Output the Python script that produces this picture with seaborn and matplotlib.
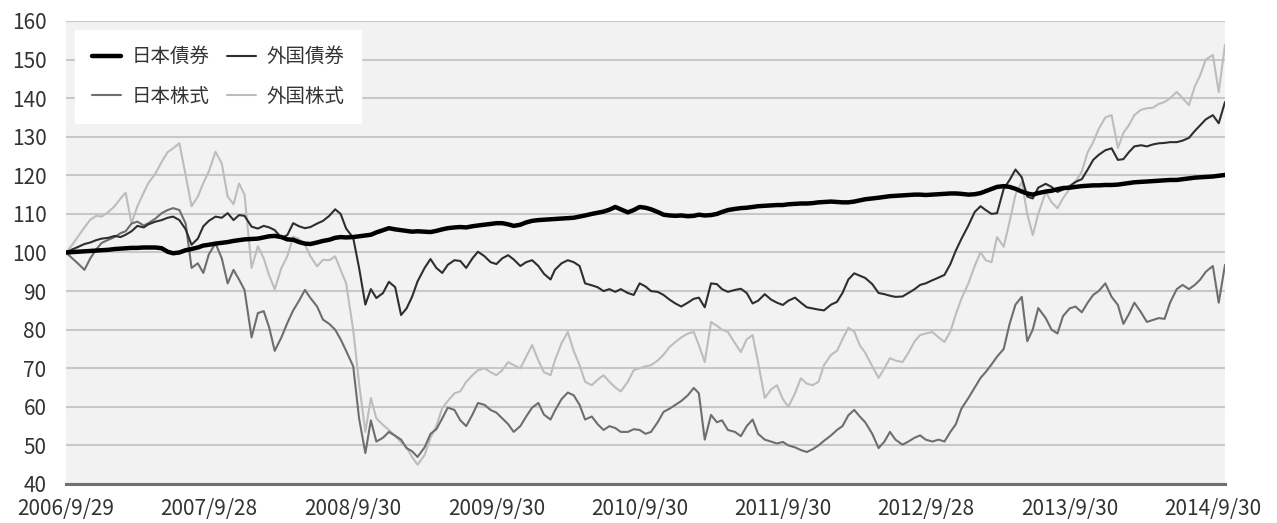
import matplotlib
matplotlib.use("Agg")
import matplotlib.pyplot as plt
import seaborn as sns
import pandas as pd

# ---- data (semi-monthly readings) ----
DATES = [
    "2006-09-29", "2006-10-15", "2006-10-31", "2006-11-15", "2006-11-30", "2006-12-15", "2006-12-29", "2007-01-15", "2007-01-31", "2007-02-15", "2007-02-28", "2007-03-15",
    "2007-03-30", "2007-04-15", "2007-04-27", "2007-05-15", "2007-05-31", "2007-06-15", "2007-06-29", "2007-07-15", "2007-07-31", "2007-08-15", "2007-08-31", "2007-09-14",
    "2007-09-28", "2007-10-15", "2007-10-31", "2007-11-15", "2007-11-30", "2007-12-14", "2007-12-28", "2008-01-15", "2008-01-31", "2008-02-15", "2008-02-29", "2008-03-14",
    "2008-03-31", "2008-04-15", "2008-04-30", "2008-05-15", "2008-05-30", "2008-06-13", "2008-06-30", "2008-07-15", "2008-07-31", "2008-08-15", "2008-08-29", "2008-09-12",
    "2008-09-30", "2008-10-15", "2008-10-31", "2008-11-14", "2008-11-28", "2008-12-15", "2008-12-30", "2009-01-15", "2009-01-30", "2009-02-13", "2009-02-27", "2009-03-13",
    "2009-03-31", "2009-04-15", "2009-04-30", "2009-05-15", "2009-05-29", "2009-06-15", "2009-06-30", "2009-07-15", "2009-07-31", "2009-08-14", "2009-08-31", "2009-09-15",
    "2009-09-30", "2009-10-15", "2009-10-30", "2009-11-13", "2009-11-30", "2009-12-15", "2009-12-30", "2010-01-15", "2010-01-29", "2010-02-15", "2010-02-26", "2010-03-15",
    "2010-03-31", "2010-04-15", "2010-04-30", "2010-05-14", "2010-05-31", "2010-06-15", "2010-06-30", "2010-07-15", "2010-07-30", "2010-08-13", "2010-08-31", "2010-09-15",
    "2010-09-30", "2010-10-15", "2010-10-29", "2010-11-15", "2010-11-30", "2010-12-15", "2010-12-30", "2011-01-14", "2011-01-31", "2011-02-15", "2011-02-28", "2011-03-15",
    "2011-03-31", "2011-04-15", "2011-04-28", "2011-05-13", "2011-05-31", "2011-06-15", "2011-06-30", "2011-07-15", "2011-07-29", "2011-08-15", "2011-08-31", "2011-09-15",
    "2011-09-30", "2011-10-14", "2011-10-31", "2011-11-15", "2011-11-30", "2011-12-15", "2011-12-30", "2012-01-13", "2012-01-31", "2012-02-15", "2012-02-29", "2012-03-15",
    "2012-03-30", "2012-04-13", "2012-04-27", "2012-05-15", "2012-05-31", "2012-06-15", "2012-06-29", "2012-07-13", "2012-07-31", "2012-08-15", "2012-08-31", "2012-09-14",
    "2012-09-28", "2012-10-15", "2012-10-31", "2012-11-15", "2012-11-30", "2012-12-14", "2012-12-28", "2013-01-15", "2013-01-31", "2013-02-15", "2013-02-28", "2013-03-15",
    "2013-03-29", "2013-04-15", "2013-04-30", "2013-05-15", "2013-05-31", "2013-06-14", "2013-06-28", "2013-07-12", "2013-07-31", "2013-08-15", "2013-08-30", "2013-09-13",
    "2013-09-30", "2013-10-15", "2013-10-31", "2013-11-15", "2013-11-29", "2013-12-13", "2013-12-30", "2014-01-15", "2014-01-31", "2014-02-14", "2014-02-28", "2014-03-14",
    "2014-03-31", "2014-04-15", "2014-04-30", "2014-05-15", "2014-05-30", "2014-06-13", "2014-06-30", "2014-07-15", "2014-07-31", "2014-08-15", "2014-08-29", "2014-09-12",
    "2014-09-30", "2014-10-15", "2014-10-31",
]

JP_BOND = [
    100.0, 100.1, 100.2, 100.3, 100.4, 100.5, 100.6, 100.7, 100.9, 101.0, 101.1, 101.2,
    101.2, 101.3, 101.3, 101.3, 101.1, 100.2, 99.8, 100.0, 100.6, 100.9, 101.3, 101.8,
    102.0, 102.3, 102.5, 102.7, 103.0, 103.2, 103.4, 103.5, 103.6, 103.9, 104.2, 104.3,
    104.0, 103.4, 103.3, 102.7, 102.3, 102.2, 102.6, 103.0, 103.3, 103.8, 104.0, 103.9,
    104.0, 104.2, 104.4, 104.6, 105.2, 105.8, 106.3, 106.0, 105.8, 105.6, 105.4, 105.5,
    105.4, 105.3, 105.6, 106.0, 106.3, 106.5, 106.6, 106.5, 106.8, 107.0, 107.2, 107.4,
    107.6, 107.6, 107.3, 106.9, 107.2, 107.8, 108.2, 108.4, 108.5, 108.6, 108.7, 108.8,
    108.9, 109.0, 109.3, 109.6, 110.0, 110.3, 110.6, 111.1, 111.8, 111.2, 110.4, 111.0,
    111.8, 111.6, 111.2, 110.5, 109.8, 109.6, 109.5, 109.6, 109.4, 109.5, 109.8, 109.6,
    109.7, 110.0, 110.5, 111.0, 111.3, 111.5, 111.6, 111.8, 112.0, 112.1, 112.2, 112.3,
    112.3, 112.5, 112.6, 112.7, 112.7, 112.8, 113.0, 113.1, 113.2, 113.1, 113.0, 113.0,
    113.2, 113.5, 113.8, 114.0, 114.2, 114.4, 114.6, 114.7, 114.8, 114.9, 115.0, 115.0,
    114.9, 115.0, 115.1, 115.2, 115.3, 115.3, 115.2, 115.0, 115.1, 115.4, 115.9, 116.5,
    117.0, 117.2, 117.0, 116.5, 115.8, 115.3, 115.0, 115.4, 115.8, 116.0, 116.4, 116.7,
    116.8, 117.0, 117.2, 117.3, 117.4, 117.4, 117.5, 117.5, 117.6, 117.8, 118.0, 118.2,
    118.3, 118.4, 118.5, 118.6, 118.7, 118.8, 118.8, 119.0, 119.2, 119.4, 119.5, 119.6,
    119.7, 119.9, 120.1,
]

FX_BOND = [
    100.0, 100.8, 101.5, 102.2, 102.6, 103.2, 103.6, 103.8, 104.3, 104.0, 104.6, 105.5,
    106.9, 106.5, 107.3, 108.0, 108.4, 109.0, 109.3, 108.4, 106.0, 102.0, 103.6, 106.8,
    108.2, 109.3, 109.0, 110.2, 108.4, 109.7, 109.5, 106.7, 106.2, 106.9, 106.5, 105.8,
    103.8, 104.5, 107.6, 106.8, 106.3, 106.6, 107.5, 108.2, 109.5, 111.2, 110.0, 106.2,
    103.8, 96.0, 86.5, 90.5, 88.2, 89.5, 92.4, 91.0, 83.8, 85.5, 88.5, 92.5,
    96.0, 98.3, 96.0, 94.7, 96.8, 98.0, 97.8, 96.0, 98.5, 100.2, 99.0, 97.5,
    97.0, 98.5, 99.3, 98.2, 96.5, 97.5, 98.0, 96.5, 94.5, 93.0, 95.5, 97.2,
    98.0, 97.5, 96.5, 92.0, 91.5, 91.0, 90.0, 90.5, 89.8, 90.5, 89.5, 89.0,
    92.0, 91.2, 90.0, 89.8, 89.0, 87.8, 86.8, 86.0, 87.0, 88.0, 88.3, 85.8,
    92.0, 91.8, 90.5, 89.8, 90.3, 90.6, 89.5, 86.8, 87.5, 89.2, 87.8, 87.0,
    86.4, 87.5, 88.3, 87.0, 85.8, 85.5, 85.2, 85.0, 86.5, 87.2, 89.5, 93.0,
    94.6, 94.0, 93.4, 91.8, 89.5, 89.2, 88.8, 88.5, 88.6, 89.5, 90.5, 91.6,
    92.0, 92.8, 93.5, 94.2, 97.0, 100.5, 103.5, 107.0, 110.5, 112.0, 111.0, 110.0,
    110.2, 116.5, 118.8, 121.5, 119.5, 114.5, 114.0, 116.8, 117.8, 117.0, 115.7, 116.3,
    117.2, 118.3, 119.0, 121.5, 124.0, 125.3, 126.5, 127.0, 124.0, 124.2, 126.0, 127.5,
    127.8, 127.5, 128.0, 128.3, 128.4, 128.6, 128.6, 129.0, 129.7, 131.5, 133.0, 134.5,
    135.6, 133.5, 139.0,
]

JP_STOCK = [
    100.0, 98.5, 97.0, 95.5, 98.5, 100.8, 102.5, 103.3, 104.0, 105.0, 105.5, 107.5,
    108.0, 107.0, 107.6, 108.8, 110.2, 111.0, 111.5, 111.0, 107.5, 96.0, 97.2, 94.7,
    99.5, 102.4, 98.5, 92.0, 95.5, 93.0, 90.3, 78.0, 84.3, 84.8, 80.5, 74.5,
    78.0, 81.7, 85.0, 87.5, 90.3, 88.2, 86.0, 82.6, 81.5, 80.0, 77.5, 74.5,
    70.5, 57.0, 48.0, 56.5, 51.0, 52.0, 53.5, 52.5, 51.5, 49.3, 48.5, 47.0,
    49.5, 53.0, 54.2, 57.0, 59.8, 59.2, 56.5, 55.0, 58.0, 61.0, 60.5, 59.2,
    58.5, 57.0, 55.5, 53.5, 55.0, 57.5, 59.8, 61.0, 58.0, 56.7, 59.0, 62.0,
    63.7, 63.0, 60.5, 56.7, 57.5, 55.5, 54.0, 55.0, 54.5, 53.5, 53.5, 54.2,
    54.0, 53.0, 53.5, 56.0, 58.7, 59.5, 60.5, 61.5, 63.0, 64.9, 63.5, 51.5,
    57.9, 56.0, 56.5, 54.0, 53.5, 52.4, 55.0, 56.7, 53.0, 51.5, 51.0, 50.5,
    50.9, 50.0, 49.5, 48.8, 48.3, 49.0, 50.0, 51.2, 52.6, 54.0, 55.0, 57.8,
    59.2, 57.5, 56.0, 53.0, 49.3, 51.0, 53.5, 51.5, 50.2, 51.0, 52.0, 52.6,
    51.5, 51.0, 51.5, 51.0, 53.5, 55.5, 59.5, 62.3, 65.0, 67.5, 69.0, 71.0,
    73.0, 75.0, 81.5, 86.5, 88.5, 77.0, 80.0, 85.6, 83.0, 80.0, 79.0, 83.5,
    85.5, 86.0, 84.5, 87.0, 89.0, 90.0, 92.0, 88.5, 86.4, 81.5, 84.0, 87.0,
    84.5, 82.0, 82.5, 83.0, 82.8, 87.0, 90.5, 91.6, 90.5, 91.6, 93.0, 95.0,
    96.5, 87.0, 96.8,
]

FX_STOCK = [
    100.0, 102.0, 104.3, 106.5, 108.5, 109.5, 109.3, 110.5, 112.0, 114.0, 115.5, 107.5,
    112.0, 115.5, 118.0, 120.5, 123.5, 126.0, 127.0, 128.3, 120.0, 112.0, 114.5, 118.0,
    121.0, 126.1, 123.1, 114.5, 112.5, 117.9, 115.0, 96.0, 101.6, 98.5, 94.0, 90.5,
    96.0, 99.0, 104.1, 103.5, 102.0, 99.0, 96.4, 98.1, 98.0, 99.0, 95.5, 92.0,
    80.0, 66.0, 53.5, 62.3, 57.0, 55.3, 54.0, 52.5, 50.8, 49.5, 47.0, 45.0,
    47.5, 52.0, 55.0, 59.7, 61.5, 63.5, 64.0, 66.5, 68.2, 69.5, 70.0, 69.0,
    68.2, 69.5, 71.6, 70.8, 70.0, 73.0, 76.0, 72.0, 69.0, 68.2, 72.0, 76.5,
    79.4, 74.5, 70.8, 66.5, 65.6, 67.0, 68.2, 66.5, 65.0, 64.0, 66.5, 69.5,
    70.0, 70.5, 70.8, 72.0, 73.5, 75.5, 76.8, 78.0, 79.0, 79.4, 76.0, 71.6,
    82.0, 81.0, 80.0, 79.4, 76.5, 74.2, 77.5, 78.6, 71.5, 62.3, 64.5, 65.6,
    62.0, 60.0, 63.5, 67.4, 66.0, 65.6, 66.5, 70.8, 73.5, 74.5, 77.5, 80.5,
    79.5, 76.0, 74.0, 70.5, 67.5, 70.0, 72.6, 72.0, 71.6, 74.0, 77.0, 78.6,
    79.0, 79.4, 78.0, 76.8, 79.5, 84.0, 88.0, 92.0, 96.5, 100.1, 98.0, 97.5,
    104.0, 101.5, 108.0, 115.0, 118.3, 110.0, 104.5, 110.0, 115.7, 113.0, 111.5, 114.0,
    116.5, 118.3, 121.0, 126.0, 128.6, 132.0, 135.0, 135.6, 127.1, 131.0, 133.0, 135.6,
    137.0, 137.4, 137.5, 138.5, 139.0, 140.0, 141.6, 140.0, 138.2, 143.0, 146.0, 150.0,
    151.2, 141.6, 153.8,
]

SERIES = ["日本債券", "日本株式", "外国債券", "外国株式"]
X_TICKS = ["2006-09-29", "2007-09-28", "2008-09-30", "2009-09-30", "2010-09-30",
           "2011-09-30", "2012-09-28", "2013-09-30", "2014-09-30"]
X_TICK_LABELS = ["2006/9/29", "2007/9/28", "2008/9/30", "2009/9/30", "2010/9/30",
                 "2011/9/30", "2012/9/28", "2013/9/30", "2014/9/30"]
Y_TICKS = [40, 50, 60, 70, 80, 90, 100, 110, 120, 130, 140, 150, 160]

# ---- styling ----
sns.set_theme(style="white")
plt.rcParams["font.family"] = ["Noto Sans CJK JP", "DejaVu Sans"]

dates = pd.to_datetime(DATES)
values = {"日本債券": JP_BOND, "日本株式": JP_STOCK, "外国債券": FX_BOND, "外国株式": FX_STOCK}
colors = {"日本債券": "#000000", "日本株式": "#6e6e6e", "外国債券": "#2e2e2e", "外国株式": "#bdbdbd"}
widths = {"日本債券": 3.2, "日本株式": 1.5, "外国債券": 1.5, "外国株式": 1.5}
zorders = {"日本債券": 5, "外国債券": 4, "日本株式": 3, "外国株式": 2}

fig = plt.figure(figsize=(12.77, 5.23), dpi=100)
ax = fig.add_axes([66 / 1277, 1 - 484 / 523, (1225 - 66) / 1277, (484 - 21) / 523])
ax.set_facecolor("#f2f2f2")

for name in ["外国株式", "日本株式", "外国債券", "日本債券"]:
    df = pd.DataFrame({"date": dates, "value": values[name]})
    sns.lineplot(data=df, x="date", y="value", ax=ax, color=colors[name],
                 linewidth=widths[name], label=name, zorder=zorders[name])

hmap = {l.get_label(): l for l in ax.get_lines()}
leg_handles = [hmap[n] for n in SERIES]
leg = ax.legend(leg_handles, SERIES, ncol=2, loc="upper left",
                bbox_to_anchor=(0.0078, 0.981), borderaxespad=0.0,
                frameon=True, fancybox=False,
                framealpha=1.0, facecolor="white", edgecolor="white",
                fontsize=14, handlelength=1.5, handleheight=0.7,
                handletextpad=0.55, columnspacing=0.9, labelspacing=0.95,
                borderpad=0.85)
for t in leg.get_texts():
    t.set_color("#333333")
leg.set_zorder(10)

ax.set_ylim(40, 160)
ax.set_yticks(Y_TICKS)
ax.set_xlim(pd.Timestamp("2006-09-29"), pd.Timestamp("2014-10-31"))
ax.set_xticks(pd.to_datetime(X_TICKS))
ax.set_xticklabels(X_TICK_LABELS)

ax.yaxis.grid(True, color="#c8c8c8", linewidth=1.5)
ax.xaxis.grid(False)
ax.set_axisbelow(True)
for s in ["top", "right", "left"]:
    ax.spines[s].set_visible(False)
ax.spines["bottom"].set_color("#707070")
ax.spines["bottom"].set_linewidth(2.2)
ax.spines["bottom"].set_zorder(6)

ax.tick_params(axis="x", direction="in", length=4, width=1.5, color="#707070",
               labelsize=15, labelcolor="#333333", pad=10)
ax.tick_params(axis="y", length=0, labelsize=15, labelcolor="#333333", pad=14)
ax.set_xlabel("")
ax.set_ylabel("")

fig.savefig("out.png", dpi=100)
